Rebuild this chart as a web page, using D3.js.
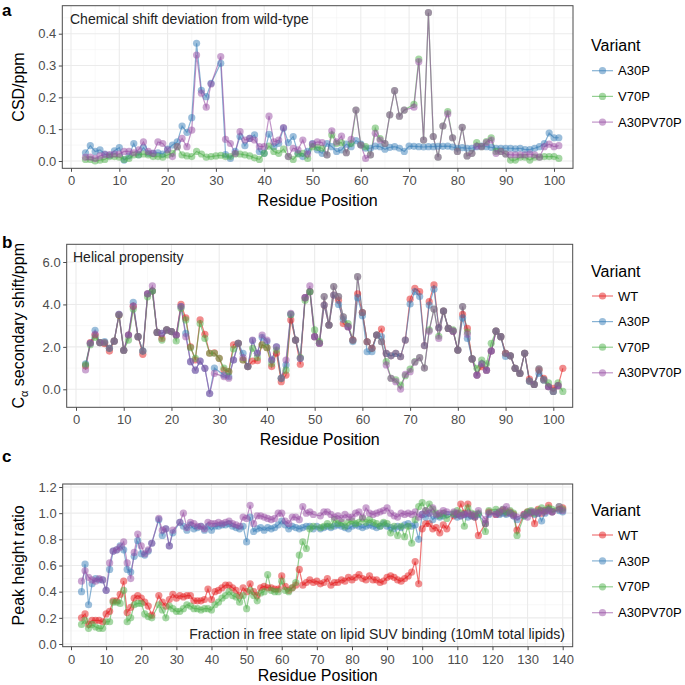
<!DOCTYPE html>
<html><head><meta charset="utf-8">
<script src="https://cdn.jsdelivr.net/npm/d3@7"></script>
<style>
body{margin:0;background:#fff;}
text{font-family:"Liberation Sans",Arial,Helvetica,sans-serif;}
</style></head>
<body>
<script>
// ---------------- Data ----------------
const residuesA = d3.range(3, 102);   // residue positions 3..101
const residuesB = d3.range(2, 103);   // 2..102
const residuesC = d3.range(3, 141);   // 3..140

const variantsA = ["A30P", "V70P", "A30PV70P"];
const variantsBC = ["WT", "A30P", "V70P", "A30PV70P"];
const variantColors = {WT: "#E41A1C", A30P: "#377EB8", V70P: "#4DAF4A", A30PV70P: "#984EA3"};

// Panel a: CSD/ppm
const csdA30P = [
 .026,.048,.030,.035,.022,.018,.032,.042,.003,.016,
 .055,.020,.042,.024,.024,.026,.022,.037,.050,.060,
 .110,.090,.136,.370,.222,.202,.244,null,.307,.020,
 .008,.030,.077,.048,.071,.082,.030,.024,.084,.045,
 .055,.103,.058,.077,.024,.014,.030,.055,.035,.024,
 .055,.045,.030,.035,.053,.045,.064,.053,.040,.040,
 .047,.045,.037,.043,.045,.040,.030,.047,.046,.045,
 .044,.045,.045,.046,.046,.047,.044,.040,.042,.040,
 .040,.045,.047,.045,.043,.040,.040,.040,.040,.038,
 .040,.036,.036,.040,.045,.055,.088,.073,.073];
const csdV70P = [
 .005,.005,.000,.003,.005,.014,.014,.012,.005,.008,
 .019,.019,.022,.019,.014,.014,.012,.019,.024,.045,
 .019,.016,.014,.030,.022,.012,.014,.016,.018,.014,
 .014,.022,.022,.019,.016,.010,.005,.024,.047,.030,
 .024,.037,.014,.005,.022,.024,.008,.045,.043,.040,
 .019,.082,.055,.058,.026,.055,.160,.050,.045,.019,
 .103,.070,.055,.145,.221,.141,.160,null,.178,.320,
 .066,.466,.077,.012,.110,.155,.073,.030,.106,.016,
 .024,.058,.045,.061,.073,.030,.030,.022,.003,.003,
 .012,.012,.003,.012,.012,.014,.014,.014,.008];
const csdA30PV70P = [
 .012,.012,.008,.016,.020,.020,.022,.022,.030,.030,
 .026,.035,.060,.030,.024,.060,.055,.035,.014,.045,
 .071,.045,.097,.333,.213,.169,.242,null,.328,.068,
 .055,.024,.092,.066,.071,.066,.045,.045,.141,.060,
 .066,.105,.014,.040,.035,.066,.022,.053,.060,.058,
 .019,.095,.060,.078,.026,.068,.160,.050,.008,.019,
 .087,.066,.055,.145,.221,.141,.160,null,.169,.312,
 .066,.466,.077,.012,.110,.148,.073,.030,.106,.016,
 .024,.047,.045,.058,.066,.024,.030,.022,.019,.019,
 .019,.019,.022,.019,.012,.045,.053,.045,.048];

// Panel b: C-alpha secondary shift/ppm
const helixWT = [
 1.10,2.20,2.56,2.20,2.15,1.80,2.27,3.50,1.84,2.56,
 3.92,2.48,1.65,4.50,4.63,2.68,2.40,2.80,2.72,2.56,
 4.00,3.37,2.00,1.38,3.27,2.59,1.70,1.72,1.46,0.91,
 0.83,2.10,2.17,1.38,1.07,1.33,1.35,2.10,1.96,1.07,
 1.70,0.36,0.67,3.27,2.32,1.18,4.32,4.60,2.48,2.17,
 3.97,3.03,4.44,4.20,3.10,2.95,2.32,4.50,3.62,2.24,
 1.93,2.56,2.84,1.69,1.58,1.69,1.54,2.32,4.25,4.76,
 4.60,2.06,4.13,4.92,2.90,3.69,2.87,2.74,1.85,3.53,
 2.87,1.43,0.67,1.07,0.90,1.80,2.74,2.48,1.70,1.58,
 0.99,0.75,1.70,0.48,0.23,0.90,0.52,0.12,0.05,0.17,
 0.99];
const helixA30P = [
 1.20,2.17,2.78,2.20,2.25,1.93,2.27,3.53,1.84,2.56,
 4.10,2.48,1.80,4.50,4.63,2.68,2.64,2.80,2.72,2.56,
 3.90,2.64,1.30,0.90,1.33,0.99,-0.20,1.00,null,0.67,
 0.60,1.38,2.17,1.70,1.07,2.30,1.70,2.45,2.25,1.38,
 2.00,0.52,1.15,3.53,2.32,1.46,4.32,4.60,2.48,2.17,
 3.97,3.03,4.44,4.00,3.30,2.95,2.25,4.32,3.47,1.77,
 1.77,2.56,2.48,1.69,1.58,1.69,1.54,2.32,4.02,4.60,
 4.37,2.06,3.97,4.72,2.90,3.69,2.87,2.74,1.85,3.37,
 2.40,1.43,0.67,1.20,0.90,1.80,2.74,2.48,1.55,1.58,
 0.99,0.75,1.70,0.39,0.23,0.75,0.44,0.12,-0.10,0.17,
 null];
const helixV70P = [
 1.15,2.10,2.45,2.20,2.20,1.93,2.27,3.50,1.84,2.32,
 3.78,2.48,1.80,4.36,4.63,2.68,2.32,2.80,2.72,2.28,
 3.82,3.27,1.96,1.46,3.10,2.40,1.70,1.70,1.46,1.00,
 0.83,1.90,2.17,1.38,1.07,1.93,1.50,2.10,1.96,1.20,
 1.85,0.52,0.90,3.53,2.32,1.50,4.20,4.60,2.80,2.25,
 4.37,3.03,4.84,4.37,3.42,3.10,2.32,5.31,3.62,2.24,
 1.93,2.56,2.24,1.30,0.52,0.45,0.20,0.64,0.95,1.30,
 1.49,1.00,2.80,3.78,2.50,3.69,2.87,2.80,1.85,3.90,
 2.70,1.43,0.99,1.38,1.20,2.17,2.74,2.48,1.70,1.58,
 0.99,0.75,1.70,0.39,0.23,0.96,0.44,0.30,-0.10,0.30,
 -0.10];
const helixA30PV70P = [
 0.91,2.17,2.60,2.20,2.20,1.93,2.27,3.53,1.84,2.56,
 3.92,2.48,1.80,4.50,4.87,2.68,2.64,2.80,2.72,2.56,
 3.90,2.48,1.30,0.90,1.33,0.99,-0.20,0.75,null,0.60,
 0.52,1.38,2.17,1.50,1.07,2.32,1.70,2.56,2.32,1.38,
 2.00,0.52,1.38,3.58,2.32,1.46,4.32,4.87,2.48,2.17,
 4.37,3.03,4.84,4.37,3.42,2.95,2.32,5.31,3.62,2.24,
 1.93,2.56,2.24,1.15,0.52,0.36,0.01,0.70,0.83,1.28,
 1.49,1.00,2.74,3.78,2.40,3.69,2.87,2.74,1.85,3.90,
 2.60,1.43,0.67,1.20,0.90,1.80,2.74,2.48,1.70,1.58,
 0.99,0.75,1.70,0.39,0.23,0.96,0.44,0.12,-0.10,0.17,
 null];

// Panel c: peak height ratio
const ratioWT = [
 .20,.23,.15,.18,.18,.18,.17,.23,.25,.33,
 .33,.38,.48,.24,.28,.35,.37,.35,.32,.29,
 .22,null,.37,.32,.29,.34,.38,.35,.37,.36,
 .37,.37,.33,.33,.33,.34,.42,.34,.40,.41,
 .43,.45,.45,.43,.41,.37,.43,.40,.46,.40,
 .37,.43,.44,.43,.43,.42,.42,.52,.44,.41,
 .43,.45,.57,.45,.47,.49,.47,.48,.46,.47,
 .50,.45,.47,.47,.49,.48,.51,.49,.51,.53,
 .50,.49,.52,.49,.49,.47,.48,.51,.52,.51,
 .49,.48,.50,.52,.55,.63,.46,.88,.92,.92,
 .88,.89,.85,.91,.88,null,.98,.99,1.07,1.00,
 1.07,.98,.97,.83,null,.92,1.01,null,.99,1.00,
 1.02,1.00,1.01,.99,.87,null,.99,1.01,1.00,.92,
 1.03,1.00,1.02,1.06,1.01,null,1.03,1.04];
const ratioA30P = [
 .40,.61,.30,.46,.50,.49,.49,.41,.57,.71,
 .72,.75,.72,.57,.55,.67,.79,.69,.68,.71,
 .77,null,.95,.83,.88,.75,.85,null,.93,.90,
 .87,.91,.88,.89,.90,.87,.90,.87,.90,.90,
 .91,.91,.92,.90,.89,.88,.90,.78,.97,.86,
 .88,.89,.87,.89,.88,.89,.91,.94,.91,.88,
 .90,.89,.88,.89,.90,.90,.88,.90,.88,.89,
 .90,.89,.90,.91,.90,.89,.88,.90,.91,.90,
 .89,.90,.91,.90,.89,.90,.92,.90,.89,.88,
 .90,.89,.91,.92,.90,.91,.80,.99,.97,1.00,
 .95,.98,.97,.98,.99,null,.99,.97,.98,.99,
 .97,.98,.97,.99,null,.92,.99,null,1.00,.99,
 1.00,.99,1.00,.98,.95,null,.98,1.00,1.01,.99,
 1.00,.94,1.00,1.03,1.01,null,1.02,1.01];
const ratioV70P = [
 .15,.18,.12,.15,.13,.12,.12,.17,.17,.32,
 .32,.31,.41,.17,.20,.30,.31,.31,.23,.21,
 .20,null,.30,.26,.20,.29,.27,.25,.25,.27,
 .30,.29,.27,.27,.26,.27,.27,.26,.30,.32,
 .35,.37,.40,.37,.36,.32,.37,.27,.41,.37,
 .33,.39,.40,.53,.41,.40,.40,.48,.41,.40,
 .43,.47,.68,.78,.73,.88,.90,null,.89,.90,
 .92,.90,.95,.92,.93,.90,.93,.94,.92,.93,
 .96,.93,.95,.93,.92,.90,.93,.92,.85,.90,
 .83,.90,.82,.90,.77,.95,1.05,1.08,1.02,1.07,
 1.03,1.00,.98,1.00,.96,null,1.00,1.02,1.00,.90,
 1.04,1.00,.99,1.00,null,.86,1.02,null,1.03,1.01,
 1.03,1.01,1.02,1.00,.83,null,.98,1.01,1.02,1.00,
 1.02,1.04,1.02,1.04,1.03,null,1.05,1.03];
const ratioA30PV70P = [
 .48,.56,.51,.49,.48,.50,.49,.41,.62,.71,
 .72,.74,.78,.62,.50,.70,.84,.75,.69,.72,
 .77,null,.96,.87,.88,.75,.87,null,.93,1.00,
 .89,.93,.92,.90,.90,.88,.93,.92,.92,.93,
 .92,.93,.94,.92,.91,.90,.97,.96,1.06,.92,
 .98,.98,.97,.96,.95,.96,1.00,1.00,.94,.92,
 .97,.97,.95,1.05,1.00,1.01,.99,null,.98,1.01,
 1.01,.99,.97,.98,.96,.99,.97,.97,1.00,1.01,
 .97,1.04,1.00,.99,1.00,1.01,1.02,1.04,1.00,.98,
 .97,1.00,.99,1.00,.99,1.01,.97,.99,1.02,1.00,
 1.04,.99,1.00,1.02,1.01,null,1.01,1.00,.98,.99,
 1.00,.99,.98,1.02,null,.95,1.00,null,.99,1.01,
 1.03,1.05,1.00,.98,.97,null,.99,.97,1.01,1.01,
 1.00,1.02,1.01,1.02,1.01,null,1.05,1.02];

// Tick labels
const xTicksA = [0,10,20,30,40,50,60,70,80,90,100];
const yTicksA = [0,0.1,0.2,0.3,0.4];
const xTicksB = [0,10,20,30,40,50,60,70,80,90,100];
const yTicksB = [0,2,4,6];
const xTicksC = [0,10,20,30,40,50,60,70,80,90,100,110,120,130,140];
const yTicksC = [0,0.2,0.4,0.6,0.8,1.0,1.2];

// ---------------- Drawing ----------------
const W = 685, H = 685;
const svg = d3.select("body").append("svg").attr("width", W).attr("height", H);
svg.append("rect").attr("width", W).attr("height", H).attr("fill", "#fff");

const GRID_MAJOR = "#EBEBEB", GRID_MINOR = "#F3F3F3";
const TICK_COL = "#4D4D4D";

function drawPanel(o) {
  const x = d3.scaleLinear().domain(o.xMap).range(o.xPx);
  const y = d3.scaleLinear().domain(o.yMap).range(o.yPx);
  const r = o.rect;
  const g = svg.append("g");
  g.append("rect").attr("x", r.l).attr("y", r.t).attr("width", r.r - r.l).attr("height", r.b - r.t).attr("fill", "#fff");

  // minor grid
  const xMinor = o.xTicks.slice(0, -1).map((v, i) => (v + o.xTicks[i + 1]) / 2);
  xMinor.push(o.xTicks[o.xTicks.length - 1] + (o.xTicks[1] - o.xTicks[0]) / 2);
  const yMinor = o.yTicks.slice(0, -1).map((v, i) => (v + o.yTicks[i + 1]) / 2);
  yMinor.push(o.yTicks[o.yTicks.length - 1] + (o.yTicks[1] - o.yTicks[0]) / 2);
  yMinor.unshift(o.yTicks[0] - (o.yTicks[1] - o.yTicks[0]) / 2);
  const inX = v => x(v) > r.l && x(v) < r.r;
  const inY = v => y(v) > r.t && y(v) < r.b;
  g.selectAll(".xminor").data(xMinor.filter(inX)).join("line")
    .attr("x1", d => x(d)).attr("x2", d => x(d)).attr("y1", r.t).attr("y2", r.b)
    .attr("stroke", GRID_MINOR).attr("stroke-width", 0.6);
  g.selectAll(".yminor").data(yMinor.filter(inY)).join("line")
    .attr("y1", d => y(d)).attr("y2", d => y(d)).attr("x1", r.l).attr("x2", r.r)
    .attr("stroke", GRID_MINOR).attr("stroke-width", 0.6);
  g.selectAll(".xmajor").data(o.xTicks.filter(inX)).join("line")
    .attr("x1", d => x(d)).attr("x2", d => x(d)).attr("y1", r.t).attr("y2", r.b)
    .attr("stroke", GRID_MAJOR).attr("stroke-width", 1.1);
  g.selectAll(".ymajor").data(o.yTicks.filter(inY)).join("line")
    .attr("y1", d => y(d)).attr("y2", d => y(d)).attr("x1", r.l).attr("x2", r.r)
    .attr("stroke", GRID_MAJOR).attr("stroke-width", 1.1);

  // series
  const series = o.names.map((n, i) => ({
    name: n,
    pts: o.positions.map((p, j) => ({p, v: o.values[i][j]})).filter(d => d.v !== null)
  }));
  const line = d3.line().x(d => x(d.p)).y(d => y(d.v));
  series.forEach(s => {
    g.append("path").datum(s.pts).attr("d", line).attr("fill", "none")
      .attr("stroke", variantColors[s.name]).attr("stroke-width", 1.2).attr("stroke-opacity", 0.6);
  });
  series.forEach(s => {
    g.append("g").selectAll("circle").data(s.pts).join("circle")
      .attr("cx", d => x(d.p)).attr("cy", d => y(d.v)).attr("r", 3.6)
      .attr("fill", variantColors[s.name]).attr("fill-opacity", 0.5);
  });

  // annotation
  g.append("text").attr("x", o.note.x).attr("y", o.note.y).attr("text-anchor", o.note.anchor)
    .attr("font-size", 14).attr("fill", "#222").text(o.note.text);

  // frame
  g.append("rect").attr("x", r.l).attr("y", r.t).attr("width", r.r - r.l).attr("height", r.b - r.t)
    .attr("fill", "none").attr("stroke", "#4a4a4a").attr("stroke-width", 1);

  // axes
  const ax = g.append("g").attr("transform", `translate(0,${r.b})`)
    .call(d3.axisBottom(x).tickValues(o.xTicks).tickFormat(d3.format("d")).tickSize(3.5).tickPadding(4.3));
  const ay = g.append("g").attr("transform", `translate(${r.l},0)`)
    .call(d3.axisLeft(y).tickValues(o.yTicks).tickFormat(d3.format(".1f")).tickSize(3.5).tickPadding(2.5));
  [ax, ay].forEach(a => {
    a.select(".domain").remove();
    a.selectAll(".tick line").attr("stroke", "#4a4a4a");
    a.selectAll(".tick text").attr("fill", TICK_COL).attr("font-size", 13)
      .attr("font-family", '"Liberation Sans",Arial,sans-serif');
  });

  // x title
  g.append("text").attr("x", (r.l + r.r) / 2).attr("y", Math.min(r.b + 38, 681)).attr("text-anchor", "middle")
    .attr("font-size", 16).attr("fill", "#000").text("Residue Position");
  // y title
  const yt = g.append("text").attr("transform", `translate(24,${(r.t + r.b) / 2}) rotate(-90)`)
    .attr("text-anchor", "middle").attr("font-size", 16).attr("fill", "#000");
  if (o.yTitleSub) {
    yt.append("tspan").text("C");
    yt.append("tspan").attr("font-size", 11).attr("dy", 3.5).text("α");
    yt.append("tspan").attr("dy", -3.5).text(" secondary shift/ppm");
  } else {
    yt.text(o.yTitle);
  }
  // panel letter
  svg.append("text").attr("x", 2).attr("y", o.letterY).attr("font-size", 17).attr("font-weight", "bold")
    .attr("fill", "#000").text(o.letter);

  // legend
  const lg = svg.append("g");
  lg.append("text").attr("x", 591).attr("y", o.legend.titleY).attr("font-size", 16).attr("fill", "#000").text("Variant");
  o.names.forEach((n, i) => {
    const cy = o.legend.firstY + i * o.legend.step;
    lg.append("line").attr("x1", 592).attr("x2", 613).attr("y1", cy).attr("y2", cy)
      .attr("stroke", variantColors[n]).attr("stroke-width", 1.2).attr("stroke-opacity", 0.6);
    lg.append("circle").attr("cx", 602.5).attr("cy", cy).attr("r", 3.6)
      .attr("fill", variantColors[n]).attr("fill-opacity", 0.5);
    lg.append("text").attr("x", 618).attr("y", cy).attr("dy", "0.36em").attr("font-size", 13)
      .attr("fill", "#000").text(n);
  });
}

drawPanel({
  rect: {l: 62.3, r: 573, t: 5.7, b: 168.3},
  xMap: [0, 100], xPx: [71, 554], yMap: [0, 0.4], yPx: [161, 33.7],
  xTicks: xTicksA, yTicks: yTicksA,
  positions: residuesA, names: variantsA, values: [csdA30P, csdV70P, csdA30PV70P],
  note: {x: 70, y: 24, anchor: "start", text: "Chemical shift deviation from wild-type"},
  yTitle: "CSD/ppm", letter: "a", letterY: 16,
  legend: {titleY: 51, firstY: 70.7, step: 25.7}
});
drawPanel({
  rect: {l: 66.7, r: 572.7, t: 244.3, b: 407.3},
  xMap: [0, 100], xPx: [76, 553.3], yMap: [0, 6], yPx: [389.3, 262],
  xTicks: xTicksB, yTicks: yTicksB,
  positions: residuesB, names: variantsBC, values: [helixWT, helixA30P, helixV70P, helixA30PV70P],
  note: {x: 73, y: 261.5, anchor: "start", text: "Helical propensity"},
  yTitleSub: true, letter: "b", letterY: 248,
  legend: {titleY: 277, firstY: 296, step: 25.6}
});
drawPanel({
  rect: {l: 62.7, r: 572.7, t: 484, b: 646.7},
  xMap: [0, 140], xPx: [71, 562.7], yMap: [0, 1.2], yPx: [644, 487],
  xTicks: xTicksC, yTicks: yTicksC,
  positions: residuesC, names: variantsBC, values: [ratioWT, ratioA30P, ratioV70P, ratioA30PV70P],
  note: {x: 565, y: 638.5, anchor: "end", text: "Fraction in free state on lipid SUV binding (10mM total lipids)"},
  yTitle: "Peak height ratio", letter: "c", letterY: 462,
  legend: {titleY: 516, firstY: 535, step: 25.9}
});
</script>
</body></html>
